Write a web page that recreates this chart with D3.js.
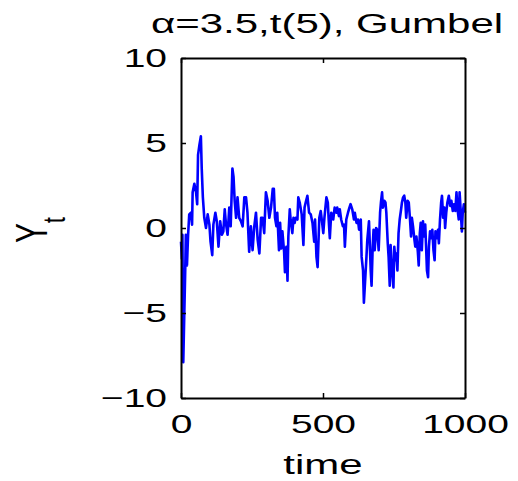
<!DOCTYPE html>
<html>
<head>
<meta charset="utf-8">
<script src="https://cdn.jsdelivr.net/npm/d3@7"></script>
<style>
body { margin: 0; background: #fff; }
text { font-family: "Liberation Sans", Arial, sans-serif; fill: #000; }
</style>
</head>
<body>
<div id="chart"></div>
<script>
// values
var timeSteps = [0, 3, 5, 8, 15, 17, 21, 25, 29, 35, 39, 41, 47, 53, 57, 60, 65, 70, 73, 77,
    82, 88, 94, 100, 104, 110, 114, 121, 126, 132, 138, 144, 149, 154, 158, 164, 170, 175, 181, 185,
    189, 194, 199, 205, 211, 217, 223, 229, 234, 240, 246, 252, 258, 264, 270, 276, 282, 287, 293, 299,
    305, 311, 317, 323, 327, 331, 336, 339, 345, 349, 353, 357, 363, 366, 371, 375, 378, 383, 386, 392,
    396, 400, 404, 410, 413, 418, 425, 431, 435, 439, 445, 451, 457, 463, 469, 472, 477, 481, 487, 492,
    497, 501, 505, 512, 517, 520, 524, 529, 536, 541, 547, 550, 556, 559, 564, 570, 574, 577, 582, 588,
    593, 597, 603, 609, 612, 618, 623, 627, 633, 636, 641, 644, 648, 653, 656, 662, 668, 671, 675, 678,
    682, 687, 691, 696, 701, 704, 708, 711, 716, 720, 723, 728, 731, 735, 738, 743, 748, 751, 755, 758,
    762, 766, 770, 775, 778, 782, 786, 790, 793, 798, 802, 806, 810, 813, 817, 822, 825, 829, 834, 837,
    841, 844, 848, 852, 856, 860, 863, 866, 870, 873, 877, 882, 885, 889, 893, 896, 901, 905, 908, 912,
    916, 919, 923, 927, 930, 934, 938, 943, 948, 952, 957, 961, 966, 970, 973, 978, 981, 985, 989, 992,
    996, 1000];
var yValues = [-0.8, -1.8, -0.4, -7.9, -2.4, -0.4, -2.2, -0.4, 0.8, 0.9, 0.2, 2.1, 2.6, 2.1, 1.4, 4.3, 4.9, 5.4, 3.5, 1.8,
    0.6, 0.0, 0.8, 0.2, -0.8, -1.6, 0.2, 0.9, 0.4, -1.1, 0.4, -0.4, -0.2, 1.1, 0.3, -0.4, 1.2, 0.1, 3.5, 3.0,
    1.6, 0.6, 1.8, 0.6, 0.4, 0.1, 1.8, 1.8, 0.9, -1.4, 0.1, -1.3, 0.1, 0.9, -0.7, -1.5, 0.6, 0.6, -0.3, 2.1,
    1.6, 0.6, 1.2, 2.3, 2.3, 0.6, 0.1, 0.9, -1.3, 0.3, -1.2, -0.2, -1.4, -2.6, -1.1, -3.1, -0.5, 1.1, 0.5, -0.3,
    0.6, 0.3, 0.6, 0.5, 1.8, 1.5, 0.8, -1.0, 1.2, 1.5, 1.9, 0.9, 0.8, 0.3, -0.8, 0.5, -1.7, -2.3, 0.6, 1.0,
    0.3, -0.3, 0.6, 1.8, 1.5, 0.5, -0.6, 0.9, 0.5, 1.2, 0.9, 1.2, 0.7, 1.1, 0.5, 0.1, 0.2, -1.1, 0.5, 0.9,
    1.2, 1.4, 1.1, 0.5, 0.9, 0.3, 0.5, -0.1, 0.5, -1.7, -2.5, -4.4, -3.2, -1.7, -0.7, 0.4, -2.5, -3.4, -1.1, -0.1,
    -1.3, 0.0, -0.1, -1.3, 0.9, 1.5, 2.1, 1.2, 1.6, 1.5, 0.9, -0.9, -1.7, -3.4, -1.0, -2.5, -3.5, -1.1, -1.9, -1.5,
    -2.5, -0.3, 0.5, 1.1, 1.5, 1.8, 1.9, 1.5, 0.6, 1.6, 1.5, 0.6, -0.5, 0.6, 0.1, -0.7, -1.1, -0.5, -1.4, -2.2,
    -0.3, 0.3, -1.3, 0.4, -0.5, 0.2, -1.1, -2.5, -2.9, -1.1, -0.2, -0.6, -0.1, -1.3, -1.9, -0.2, -0.6, -0.1, -0.9, 0.5,
    1.5, 1.9, 0.6, 1.2, 0.0, 0.9, 1.5, 1.9, 1.3, 1.6, 1.0, 1.4, 1.0, 2.1, 1.2, 0.5, 2.1, 1.0, -0.2, 0.9,
    1.4, 0.9];
var xTicks = [0, 500, 1000];
var yTicks = [-10, -5, 0, 5, 10];
var titleText = "\u03b1=3.5,t(5), Gumbel";
var xLabel = "time";

var margin = {top: 58, right: 53, bottom: 83, left: 181};
var width = 518 - margin.left - margin.right;
var height = 481 - margin.top - margin.bottom;
// the reference image is stretched sideways, so text gets a horizontal scale
var stretch = 1.5;

var root = d3.select("#chart").append("svg")
    .attr("width", 518)
    .attr("height", 481);

var svg = root.append("g")
    .attr("transform", "translate(" + margin.left + "," + margin.top + ")");

var x = d3.scaleLinear().domain([0, 1000]).range([0, width]);
var y = d3.scaleLinear().domain([-10, 10]).range([height, 0]);

var data = timeSteps.map(function (t, i) {
    return {t: t, v: yValues[i]};
});

var line = d3.line()
    .x(function (d) { return x(d.t); })
    .y(function (d) { return y(d.v); });

svg.append("path")
    .datum(data)
    .attr("fill", "none")
    .attr("stroke", "#0000ff")
    .attr("stroke-width", 2.6)
    .attr("stroke-linejoin", "round")
    .attr("d", line);

function styleAxis(g) {
    g.attr("font-family", null).attr("font-size", null);
    g.select(".domain").attr("stroke", "#000").attr("stroke-width", 2);
    g.selectAll(".tick line").attr("stroke", "#000").attr("stroke-width", 1.5);
    g.selectAll("text").style("font-size", "26px").attr("fill", "#000");
}

var gx = svg.append("g")
    .attr("transform", "translate(0," + height + ")")
    .call(d3.axisBottom(x).tickValues(xTicks).tickFormat(d3.format("d"))
        .tickSizeInner(-5).tickSizeOuter(0).tickPadding(17));
styleAxis(gx);
gx.selectAll("text").attr("transform", "scale(" + stretch + ",1)");

var gy = svg.append("g")
    .call(d3.axisLeft(y).tickValues(yTicks).tickFormat(d3.format("d"))
        .tickSizeInner(-5).tickSizeOuter(0).tickPadding(14));
styleAxis(gy);
gy.selectAll("text")
    .attr("x", -14 / stretch)
    .attr("transform", "scale(" + stretch + ",1)");

var gTop = svg.append("g")
    .call(d3.axisTop(x).tickValues(xTicks).tickSizeInner(-5).tickSizeOuter(0).tickFormat(""));
styleAxis(gTop);

var gRight = svg.append("g")
    .attr("transform", "translate(" + width + ",0)")
    .call(d3.axisRight(y).tickValues(yTicks).tickSizeInner(-5).tickSizeOuter(0).tickFormat(""));
styleAxis(gRight);

// title
svg.append("text")
    .attr("transform", "translate(" + (width / 2 + 4) + "," + (33 - margin.top) + ") scale(" + stretch + ",1)")
    .attr("text-anchor", "middle")
    .style("font-size", "28px")
    .text(titleText);

// x label
svg.append("text")
    .attr("transform", "translate(" + (width / 2) + "," + (474 - margin.top) + ") scale(" + stretch + ",1)")
    .attr("text-anchor", "middle")
    .style("font-size", "28px")
    .text(xLabel);

// y label with subscript
var yl = root.append("text")
    .attr("transform", "translate(47,243) scale(" + stretch + ",1) rotate(-90)")
    .style("font-size", "30px");
yl.append("tspan").text("Y");
yl.append("tspan").attr("dy", 12).style("font-size", "21px").text("t");
</script>
</body>
</html>
